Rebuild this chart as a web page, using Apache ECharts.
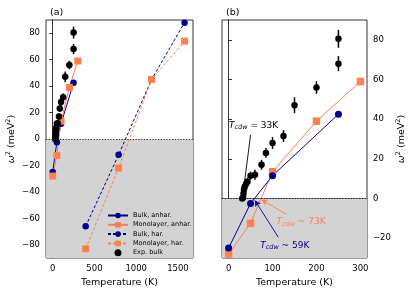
<!DOCTYPE html>
<html><head><meta charset="utf-8">
<script src="https://cdn.jsdelivr.net/npm/echarts@6/dist/echarts.min.js"></script>
<style>html,body{margin:0;padding:0;background:#fff}#c{width:415px;height:295px}</style>
</head><body><div id="c"></div>
<script>
// ---- data ----
const bulkAnharT = [0, 50, 100, 250];
const bulkAnharW = [-25, -2.5, 11.5, 42.5];
const monoAnharT = [0, 50, 100, 200, 300];
const monoAnharW = [-28, -12.5, 13.5, 39, 59];
const harT = [395, 789, 1184, 1579];
const bulkHarW = [-66, -12, 45, 88];
const monoHarW = [-83, -22, 45, 74];
const expT = [31, 33, 34, 35, 37, 40, 43, 50, 60, 75, 85, 100, 125, 150, 200, 250, 250];
const expW = [0, 0.5, 2.5, 4.5, 6, 7.5, 8.5, 11.5, 12, 17, 23, 28, 31.5, 47, 56, 68, 80.5];
const expErr = [1, 1, 1.2, 1.5, 1.5, 1.5, 2, 2, 2.5, 2.5, 2.5, 3, 3, 4, 3.2, 3.8, 4.5];
const leftXTicks = [0, 500, 1000, 1500];
const leftYTicks = [-80, -60, -40, -20, 0, 20, 40, 60, 80];
const rightXTicks = [0, 100, 200, 300];
const rightYTicks = [-20, 0, 20, 40, 60, 80];
const annoTexts = ['33K', '73K', '59K'];

const NAVY = '#00008B', CORAL = '#FF7F50';
const FONT = 'DejaVu Sans';
const pairs = (xs, ys) => xs.map((x, i) => [x, ys[i]]);
const expData = expT.map((t, i) => [t, expW[i], expErr[i]]);
const fmt = v => (v < 0 ? '\u2212' + Math.abs(v) : String(v));

const chart = echarts.init(document.getElementById('c'), null, {renderer: 'canvas'});

function errSeries(xi, yi) {
  return {
    type: 'custom', xAxisIndex: xi, yAxisIndex: yi, z: 5, silent: true,
    data: expData,
    renderItem: function (params, api) {
      const x = api.value(0), y = api.value(1), e = api.value(2);
      const p1 = api.coord([x, y - e]), p2 = api.coord([x, y + e]);
      return {type: 'line', shape: {x1: p1[0], y1: p1[1], x2: p2[0], y2: p2[1]},
        style: {stroke: '#000', lineWidth: 1.5}};
    }
  };
}
function expSeries(xi, yi) {
  return {name: 'Exp. bulk', type: 'scatter', xAxisIndex: xi, yAxisIndex: yi, z: 6,
    symbol: 'circle', symbolSize: 6.5, itemStyle: {color: '#000', opacity: 1}, data: pairs(expT, expW)};
}
function shade(yMin) {
  return {
    type: 'line', data: [], z: 1, silent: true, xAxisIndex: 0, yAxisIndex: 0,
    markArea: {silent: true, itemStyle: {color: '#d3d3d3'}, data: [[{yAxis: yMin}, {yAxis: 0}]]},
    markLine: {silent: true, symbol: 'none', label: {show: false},
      lineStyle: {type: [1.2, 1.6], color: '#000', width: 0.8}, data: [{yAxis: 0}]}
  };
}
const yName = '{w|ω}{sup|2} (meV{sup|2})';
const nameRich = {
  w: {fontStyle: 'italic', fontSize: 9.5, fontFamily: FONT},
  sup: {fontSize: 6.5, fontFamily: FONT, padding: [0, 0, 7, 0]}
};
function cdwLabel(val, color, sep) {
  return {show: true, position: 'right', distance: 0, color: color, fontFamily: FONT,
    formatter: '{t|T}{s|cdw}{n| ' + sep + ' ' + val + '}',
    rich: {
      t: {fontStyle: 'italic', fontSize: 9, fontFamily: FONT, color: color},
      s: {fontStyle: 'italic', fontSize: 6.5, fontFamily: FONT, color: color, padding: [4, 0, 0, 0]},
      n: {fontSize: 9, fontFamily: FONT, color: color}
    }};
}
function arrow(color, from, to) {
  return {markLine: {silent: true, symbol: ['none', 'arrow'], symbolSize: [5, 6], label: {show: false},
    lineStyle: {color: color, width: 0.9, type: 'solid'},
    data: [[{coord: from}, {coord: to}]]}};
}

const axisCommon = {
  axisLine: {show: true, lineStyle: {color: '#000', width: 0.8}},
  axisTick: {show: true, length: 3.5, lineStyle: {color: '#000', width: 0.8}},
  splitLine: {show: false},
};
const labelStyle = {color: '#000', fontSize: 8.5, fontFamily: FONT, formatter: fmt};

const option = {
  animation: false,
  backgroundColor: '#fff',
  title: [
    {text: '(a)', left: 45, top: 3, textStyle: {fontSize: 9.5, fontWeight: 'normal', fontFamily: FONT, color: '#000'}},
    {text: '(b)', left: 221, top: 3, textStyle: {fontSize: 9.5, fontWeight: 'normal', fontFamily: FONT, color: '#000'}}
  ],
  legend: {
    orient: 'vertical', left: 102, top: 207, itemWidth: 20, itemHeight: 7, itemGap: 2.3,
    textStyle: {fontSize: 6.5, fontFamily: FONT, color: '#000'},
    data: ['Bulk, anhar.', 'Monolayer, anhar.', 'Bulk, har.', 'Monolayer, har.', 'Exp. bulk']
  },
  grid: [
    {left: 46, top: 20, width: 147, height: 238, show: true, borderColor: '#000', borderWidth: 0.8, backgroundColor: 'transparent'},
    {left: 222, top: 20, width: 145, height: 238, show: true, borderColor: '#000', borderWidth: 0.8, backgroundColor: 'transparent'}
  ],
  xAxis: [
    Object.assign({}, axisCommon, {type: 'value', gridIndex: 0, min: -80, max: 1680,
      axisTick: Object.assign({}, axisCommon.axisTick, {customValues: leftXTicks}),
      axisLabel: Object.assign({}, labelStyle, {customValues: leftXTicks, margin: 6}),
      name: 'Temperature (K)', nameLocation: 'middle', nameGap: 20,
      nameTextStyle: {fontSize: 9.5, fontFamily: FONT, color: '#000'}}),
    Object.assign({}, axisCommon, {type: 'value', gridIndex: 1, min: -15, max: 315,
      axisTick: Object.assign({}, axisCommon.axisTick, {customValues: rightXTicks}),
      axisLabel: Object.assign({}, labelStyle, {customValues: rightXTicks, margin: 6}),
      name: 'Temperature (K)', nameLocation: 'middle', nameGap: 20,
      nameTextStyle: {fontSize: 9.5, fontFamily: FONT, color: '#000'}})
  ],
  yAxis: [
    Object.assign({}, axisCommon, {type: 'value', gridIndex: 0, min: -90, max: 90,
      axisTick: Object.assign({}, axisCommon.axisTick, {customValues: leftYTicks}),
      axisLabel: Object.assign({}, labelStyle, {customValues: leftYTicks, margin: 6}),
      name: yName, nameLocation: 'middle', nameGap: 27, nameRotate: 90,
      nameTextStyle: {fontSize: 9.5, fontFamily: FONT, color: '#000', rich: nameRich}}),
    Object.assign({}, axisCommon, {type: 'value', gridIndex: 1, position: 'right', min: -30, max: 90,
      axisTick: Object.assign({}, axisCommon.axisTick, {customValues: rightYTicks}),
      axisLabel: Object.assign({}, labelStyle, {customValues: rightYTicks, margin: 6}),
      name: yName, nameLocation: 'middle', nameGap: 28, nameRotate: 90,
      nameTextStyle: {fontSize: 9.5, fontFamily: FONT, color: '#000', rich: nameRich}})
  ],
  series: [
    shade(-90),
    Object.assign(shade(-30), {xAxisIndex: 1, yAxisIndex: 1}),
    // left panel
    {name: 'Bulk, har.', type: 'line', xAxisIndex: 0, yAxisIndex: 0, z: 3,
      symbol: 'circle', symbolSize: 6.5, color: NAVY,
      lineStyle: {color: NAVY, width: 1, type: [3, 2]}, itemStyle: {color: NAVY},
      data: pairs(harT, bulkHarW)},
    {name: 'Monolayer, har.', type: 'line', xAxisIndex: 0, yAxisIndex: 0, z: 3,
      symbol: 'rect', symbolSize: 7, color: CORAL,
      lineStyle: {color: CORAL, width: 1, type: [3, 2]}, itemStyle: {color: CORAL},
      data: pairs(harT, monoHarW)},
    {name: 'Bulk, anhar.', type: 'line', xAxisIndex: 0, yAxisIndex: 0, z: 4,
      symbol: 'circle', symbolSize: 6.5, color: NAVY,
      lineStyle: {color: NAVY, width: 1}, itemStyle: {color: NAVY},
      data: pairs(bulkAnharT, bulkAnharW)},
    {name: 'Monolayer, anhar.', type: 'line', xAxisIndex: 0, yAxisIndex: 0, z: 4,
      symbol: 'rect', symbolSize: 7, color: CORAL,
      lineStyle: {color: CORAL, width: 1}, itemStyle: {color: CORAL},
      data: pairs(monoAnharT, monoAnharW)},
    errSeries(0, 0),
    expSeries(0, 0),
    // right panel
    Object.assign({name: 'Monolayer, anhar.', type: 'line', xAxisIndex: 1, yAxisIndex: 1, z: 4,
      symbol: 'rect', symbolSize: 7.5, color: CORAL,
      lineStyle: {color: CORAL, width: 1}, itemStyle: {color: CORAL},
      data: pairs(monoAnharT, monoAnharW),
      markPoint: {symbol: 'circle', symbolSize: 0, silent: true,
        data: [{coord: [109, -11.8], label: cdwLabel(annoTexts[1], CORAL, '~')}]}},
      arrow(CORAL, [132, -8], [75, -0.6])),
    Object.assign({name: 'Bulk, anhar.', type: 'line', xAxisIndex: 1, yAxisIndex: 1, z: 4,
      symbol: 'circle', symbolSize: 7, color: NAVY,
      lineStyle: {color: NAVY, width: 1}, itemStyle: {color: NAVY},
      data: pairs(bulkAnharT, bulkAnharW),
      markPoint: {symbol: 'circle', symbolSize: 0, silent: true,
        data: [{coord: [72, -23.8], label: cdwLabel(annoTexts[2], NAVY, '~')}]}},
      arrow(NAVY, [113, -19.5], [60, -1])),
    errSeries(1, 1),
    Object.assign(expSeries(1, 1), {
      markPoint: {symbol: 'circle', symbolSize: 0, silent: true,
        data: [{coord: [1, 36.8], label: cdwLabel(annoTexts[0], '#000', '=')}]}},
      {markLine: {silent: true, symbol: ['none', 'arrow'], symbolSize: [4, 5], label: {show: false},
        lineStyle: {color: '#000', width: 0.9, type: 'solid'},
        data: [[{coord: [50, 32]}, {coord: [33.5, 3.5]}]]}})
  ]
};
chart.setOption(option);
</script></body></html>
